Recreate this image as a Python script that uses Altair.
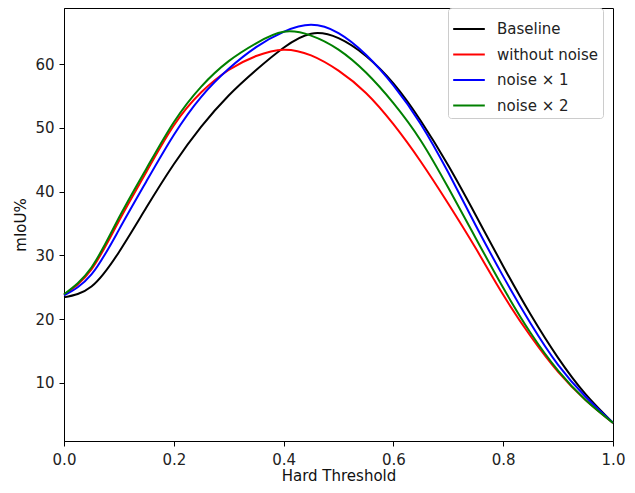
import altair as alt
import pandas as pd

thresholds = [0.0, 0.05, 0.1, 0.15, 0.2, 0.25, 0.3, 0.35, 0.4, 0.45, 0.5,
              0.55, 0.6, 0.65, 0.7, 0.75, 0.8, 0.85, 0.9, 0.95, 1.0]

baseline = [23.4, 25.1, 30.5, 37.5, 44.3, 50.2, 55.1, 59.1, 62.6, 64.8, 64.1,
            61.3, 57.0, 51.1, 44.1, 36.3, 28.3, 20.7, 13.9, 8.2, 3.7]
without_noise = [23.8, 27.8, 35.4, 43.1, 50.4, 55.6, 59.1, 61.3, 62.3, 61.4, 59.0,
                 55.5, 50.6, 44.7, 38.1, 31.1, 23.8, 17.3, 11.7, 7.3, 3.7]
noise_x1 = [23.7, 27.0, 34.0, 41.6, 48.9, 54.9, 59.3, 62.7, 65.1, 66.2, 64.9,
            61.5, 56.7, 50.6, 43.0, 34.7, 26.7, 19.3, 12.8, 7.8, 3.7]
noise_x2 = [23.9, 28.1, 35.9, 43.6, 50.9, 56.5, 60.5, 63.3, 65.1, 64.5, 62.3,
            58.7, 53.9, 48.0, 40.6, 32.7, 24.9, 17.8, 11.9, 7.3, 3.7]

series_names = ["Baseline", "without noise", "noise × 1", "noise × 2"]
series_colors = ["#000000", "#ff0000", "#0000ff", "#008000"]
series_values = [baseline, without_noise, noise_x1, noise_x2]

x_ticks = [0.0, 0.2, 0.4, 0.6, 0.8, 1.0]
y_ticks = [10, 20, 30, 40, 50, 60]

rows = []
for name, vals in zip(series_names, series_values):
    for t, v in zip(thresholds, vals):
        rows.append({"threshold": t, "miou": v, "series": name})
df = pd.DataFrame(rows)

font = "DejaVu Sans"

chart = alt.Chart(df).mark_line(strokeWidth=2, interpolate="natural").encode(
    x=alt.X("threshold:Q",
            scale=alt.Scale(domain=[0, 1], nice=False, zero=False),
            axis=alt.Axis(title="Hard Threshold", values=x_ticks, format=".1f",
                          labelFlush=False, labelPadding=6,
                          titleBaseline="alphabetic", titleY=39)),
    y=alt.Y("miou:Q",
            scale=alt.Scale(domain=[0.85, 68.84], nice=False, zero=False),
            axis=alt.Axis(title="mIoU%", values=y_ticks, labelFlush=False,
                          labelPadding=5, titlePadding=6)),
    color=alt.Color("series:N",
                    scale=alt.Scale(domain=series_names, range=series_colors),
                    legend=alt.Legend(title=None, orient="none",
                                      legendX=384, legendY=0,
                                      symbolType="stroke", symbolSize=1000,
                                      symbolStrokeWidth=2,
                                      labelFontSize=15, labelFont=font,
                                      labelColor="#222",
                                      labelOffset=11,
                                      rowPadding=0.5,
                                      padding=4,
                                      strokeColor="#cccccc",
                                      cornerRadius=3,
                                      fillColor="white")),
    detail="series:N",
    order="threshold:Q",
).properties(
    width=549,
    height=433,
    autosize=alt.AutoSizeParams(type="none"),
    padding={"left": 56, "top": 0, "right": 13, "bottom": 44},
).configure_view(
    stroke="black", strokeWidth=1
).configure_axis(
    grid=False,
    domainColor="black",
    domainWidth=1,
    tickColor="black",
    tickWidth=1,
    tickSize=5,
    labelFontSize=15,
    labelFont=font,
    labelColor="#222",
    titleFontSize=15,
    titleFont=font,
    titleFontWeight="normal",
    titleColor="#111",
)

chart.save("out.html", embed_options={"renderer": "svg", "actions": False})
